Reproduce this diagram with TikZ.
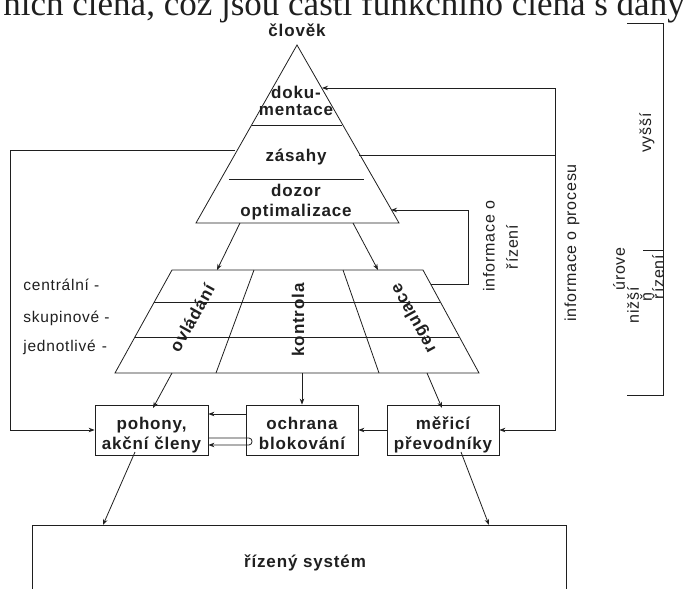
\documentclass[tikz,border=0pt]{standalone}
\usepackage{fontspec}
\usetikzlibrary{arrows.meta}
\newfontfamily\diafont{Liberation Sans}[LetterSpace=5]
\newfontfamily\bodyfont{Liberation Serif}
\newcommand\topstrut{\rule{0pt}{24pt}}
\begin{document}
\begin{tikzpicture}[x=1pt,y=-1pt,
  line width=0.8pt, color=black!88,
  txt/.style={font=\diafont\fontsize{15.5}{17}\selectfont, inner sep=0pt},
  vtxt/.style={font=\diafont\fontsize{16}{18}\selectfont, inner sep=0pt, rotate=90},
  btxt/.style={font=\diafont\bfseries\fontsize{17}{20}\selectfont, inner sep=0pt, align=center},
  blk/.style={draw, btxt, minimum width=112pt, minimum height=44pt},
  arr/.style={-{Stealth[length=6pt,width=4.5pt]}},
]
\useasboundingbox (0,0) rectangle (683,589);
\clip (0,0) rectangle (683,589);

% running text of the page above the figure
\node[anchor=base west, inner sep=0pt, font=\bodyfont\fontsize{35}{40}\selectfont]
  (bodyline) at (3,15.5) {ních člena, což jsou části funkčního člena s daný};

% pyramid of the upper levels
\node[btxt] (clovek) at (297,30) {člověk};
\coordinate (apex) at (297,45);
\coordinate (tl) at (196,223);
\coordinate (tr) at (399,223);
\draw (apex) -- (tr) -- (tl) -- cycle;
\draw (252,125) -- (342,125);
\draw (229,179) -- (364,179);
\node[btxt, font=\diafont\bfseries\fontsize{17}{17}\selectfont] (dok) at (296,101) {doku-\\mentace};
\node[btxt] (zas) at (296,157) {zásahy};
\node[btxt] (doz) at (296,202) {dozor\\optimalizace};

% grid of the lower levels
\coordinate (gTL) at (172,270);
\coordinate (gTR) at (423,270);
\coordinate (gBL) at (115,373);
\coordinate (gBR) at (479,373);
\draw (gTL) -- (gTR) -- (gBR) -- (gBL) -- cycle;
\draw (154,302) -- (440,302);
\draw (135,337) -- (459,337);
\draw (254,270) -- (216,373);
\draw (343,270) -- (379,373);
\node[btxt, rotate=61] (ovl) at (192,318) {ovládání};
\node[btxt, rotate=90] (kon) at (298,320) {kontrola};
\node[btxt, rotate=119] (reg) at (414,318) {regulace};

\node[txt, anchor=west] (lc) at (23,285) {centrální -};
\node[txt, anchor=west] (ls) at (23,318) {skupinové -};
\node[txt, anchor=west] (lj) at (23,347) {jednotlivé\hspace{6pt}-};

% pyramid to grid
\draw[arr] (240,223) -- (217,270);
\draw[arr] (353,223) -- (378,270);

% field devices
\node[blk, minimum width=113pt] (poh) at (151.5,430) {\topstrut pohony,\\\strut akční členy};
\node[blk] (och) at (302,430) {\topstrut ochrana\\\strut blokování};
\node[blk] (mer) at (443,430) {\topstrut měřicí\\\strut převodníky};

\draw[arr] (172,373) -- (153,408);
\draw[arr] (302,373) -- (och.north);
\draw[arr] (427,373) -- (442,408);

\draw[arr] (och.west |- 0,414) -- (poh.east |- 0,414);
\draw[arr] (poh.east |- 0,438) -- (249,438) .. controls (253,438) and (253,445) .. (249,445) -- (poh.east |- 0,445);
\draw[arr] (mer.west) -- (och.east);

% controlled system
\node[draw, btxt, minimum width=534pt, minimum height=76pt] (sys) at (299,563) {\hspace*{12pt}řízený systém};
\draw[arr] (135,452) -- (103,525);
\draw[arr] (461,452) -- (489,525);

% feedback paths
\coordinate (zasL) at (235,150);
\draw[arr] (zasL) -- (10,150) |- (poh.west);
\coordinate (dokR) at (322,88);
\coordinate (zasR) at (359,155);
\coordinate (rv) at (555,155);
\draw (zasR) -- (rv);
\draw[arr] (rv) |- (dokR);
\draw[arr] (rv) |- (mer.east);
\coordinate (gR) at (431,284);
\coordinate (dozR) at (391,210);
\draw[arr] (gR) -- (468,284) |- (dozR);

\node[vtxt] (inf1) at (489,246) {informace o};
\node[vtxt] (inf2) at (512,247) {řízení};
\node[vtxt] (infp) at (572,243) {informace o procesu};

% level bracket
\draw (627,23) -- (663,23) -- (663,395) -- (627,395);
\draw (643,250) -- (663,250);
\node[vtxt] (vys) at (647,133) {vyšší};
\node[vtxt] (uro) at (619,269) {úrove};
\node[vtxt] (niz) at (633,305) {nižší};
\node[vtxt] (nn) at (646,297) {ň};
\node[vtxt] (riz) at (658,277) {řízení};
\end{tikzpicture}
\end{document}
